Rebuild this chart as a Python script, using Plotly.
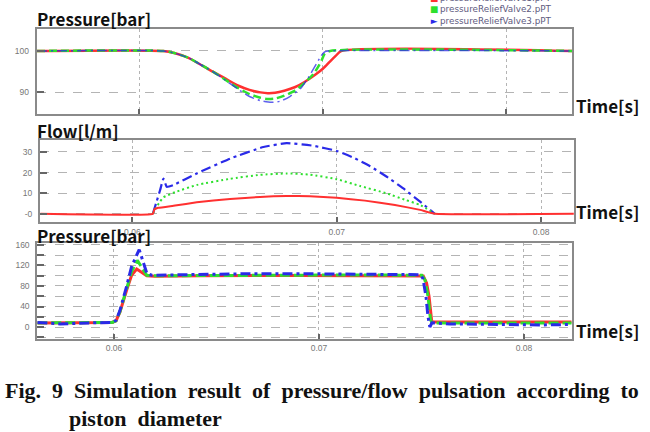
import plotly.graph_objects as go

W, H = 650, 432

# ---------------- data ----------------
# Top panel: pressure [bar] (zoomed time window)
top_ticks = [0.061, 0.062, 0.063]
top_t_red = [0.06044, 0.06113, 0.06119, 0.06127, 0.06133, 0.0614, 0.06147, 0.06154, 0.0616, 0.06166,
             0.0617, 0.06174, 0.06179, 0.06185, 0.0619, 0.06196, 0.062, 0.06204, 0.06207, 0.0621, 0.06336]
top_p_red = [100, 100, 99.5, 98.3, 96.8, 95.0, 93.3, 91.6, 90.6, 90.0,
             89.8, 89.9, 90.4, 91.3, 92.5, 94.3, 95.7, 97.5, 98.8, 100, 100]
top_t_green = [0.06044, 0.06113, 0.06119, 0.06127, 0.06133, 0.0614, 0.06147, 0.06154, 0.0616, 0.06166,
               0.0617, 0.06174, 0.06179, 0.06185, 0.0619, 0.06195, 0.06199, 0.06201, 0.06204, 0.06336]
top_p_green = [100, 100, 99.5, 98.3, 96.8, 95.0, 93.0, 91.0, 89.6, 88.7,
               88.4, 88.5, 89.2, 90.5, 92.3, 94.5, 97.4, 99.3, 100, 100]
top_t_blue = [0.06044, 0.06113, 0.06119, 0.06127, 0.06133, 0.0614, 0.06147, 0.06154, 0.0616, 0.06166,
              0.06172, 0.06177, 0.06182, 0.06188, 0.06192, 0.06196, 0.06199, 0.06201, 0.06203, 0.06336]
top_p_blue = [100, 100, 99.5, 98.3, 96.8, 95.0, 92.9, 90.7, 89.0, 88.0,
              87.6, 87.9, 89.0, 91.0, 93.5, 96.5, 98.8, 99.8, 100, 100]

# Middle panel: flow [l/m]
flow_t_red = [0.0555, 0.0610, 0.06108, 0.06127, 0.06209, 0.06315, 0.06478, 0.06625, 0.06755,
              0.06869, 0.0700, 0.07138, 0.07285, 0.07408, 0.0748, 0.0816]
flow_q_red = [0, 0, 2.2, 2.9, 4.0, 5.6, 7.2, 8.2, 8.7, 8.5, 7.8, 6.4, 4.3, 1.9, 0, 0]
flow_t_green = [0.0610, 0.06116, 0.06136, 0.06152, 0.06209, 0.06315, 0.06478, 0.06625, 0.06755,
                0.06869, 0.0700, 0.07114, 0.07245, 0.07334, 0.07408, 0.0748]
flow_q_green = [0, 3.0, 6.0, 8.0, 10.5, 14.0, 17.0, 18.9, 19.6, 19.0, 16.8, 13.5, 9.9, 6.8, 4.3, 0]
flow_t_blue = [0.0610, 0.06116, 0.06136, 0.06152, 0.06168, 0.06201, 0.06315, 0.06478, 0.06641, 0.06755,
               0.06886, 0.0700, 0.07081, 0.07163, 0.07245, 0.07326, 0.07408, 0.0748]
flow_q_blue = [0, 5.1, 11.6, 17.1, 13.1, 14.0, 19.6, 26.8, 32.4, 34.3,
               33.0, 30.5, 27.3, 23.1, 18.0, 12.3, 5.9, 0]

# Bottom panel: pressure [bar]
bot_t_red = [0.05626, 0.05834, 0.0599, 0.0601, 0.06029, 0.06062, 0.06086, 0.06111, 0.06132, 0.0616,
             0.062, 0.0642, 0.06907, 0.07395, 0.07509, 0.07525, 0.07537, 0.0755, 0.07556, 0.07883, 0.08233]
bot_p_red = [8, 8.5, 9, 12, 29, 72, 101, 113, 108, 100,
             99, 100, 100.5, 100, 99.5, 86, 60, 12, 10, 10, 10]
bot_t_green = [0.05626, 0.0599, 0.0601, 0.06029, 0.06062, 0.06086, 0.06114, 0.06132, 0.0616, 0.062,
               0.06663, 0.07151, 0.07502, 0.07517, 0.07532, 0.07544, 0.07551, 0.07883, 0.08233]
bot_p_green = [8, 9, 12, 30, 75, 108, 130, 118, 101, 100,
               101, 101.5, 101, 92, 60, 15, 8, 8, 8]
bot_t_blue = [0.05626, 0.05737, 0.05883, 0.0599, 0.0601, 0.06029, 0.06062, 0.06086, 0.06123, 0.06141,
              0.06161, 0.06185, 0.0642, 0.06663, 0.06907, 0.07151, 0.07493, 0.07507, 0.07522, 0.07532,
              0.07541, 0.07551, 0.07639, 0.07883, 0.08078, 0.08233]
bot_p_blue = [9, 6, 8, 9, 13, 32, 80, 118, 151, 130,
              104, 101, 103, 104, 104, 103, 102, 95, 60, 20,
              0, 8, 6, 5, 4, 5]

time_ticks = [0.06, 0.07, 0.08]
time_labels = ["0.06", "0.07", "0.08"]
series_names = ["pressureReliefValve1.pPT", "pressureReliefValve2.pPT", "pressureReliefValve3.pPT"]

RED, GREEN, BLUE = "#ff3030", "#2ee02e", "#2a2ae8"

# ---------------- figure ----------------
fig = go.Figure()

def px_x(p):
    return p / W

def px_y(p):
    return 1 - p / H

# top
fig.add_trace(go.Scatter(x=top_t_red, y=top_p_red, mode="lines", xaxis="x", yaxis="y",
                         line=dict(color=RED, width=2.5, shape="spline", smoothing=0.6), showlegend=False))
fig.add_trace(go.Scatter(x=top_t_green, y=top_p_green, mode="lines", xaxis="x", yaxis="y",
                         line=dict(color=GREEN, width=2.5, dash="8px,4px", shape="spline", smoothing=0.6), showlegend=False))
fig.add_trace(go.Scatter(x=top_t_blue, y=top_p_blue, mode="lines", xaxis="x", yaxis="y",
                         line=dict(color=BLUE, width=1.5, dash="10px,4px,2px,4px", shape="spline", smoothing=0.6),
                         opacity=0.75, showlegend=False))
# middle
fig.add_trace(go.Scatter(x=flow_t_blue, y=flow_q_blue, mode="lines", xaxis="x2", yaxis="y2",
                         line=dict(color=BLUE, width=2.2, dash="10px,4px,3px,4px", shape="spline", smoothing=0.4), showlegend=False))
fig.add_trace(go.Scatter(x=flow_t_green, y=flow_q_green, mode="lines", xaxis="x2", yaxis="y2",
                         line=dict(color=GREEN, width=2, dash="2px,3px", shape="spline", smoothing=0.4), showlegend=False))
fig.add_trace(go.Scatter(x=flow_t_red, y=flow_q_red, mode="lines", xaxis="x2", yaxis="y2",
                         line=dict(color=RED, width=2, shape="spline", smoothing=0.3), showlegend=False))
# bottom
fig.add_trace(go.Scatter(x=bot_t_red, y=bot_p_red, mode="lines", xaxis="x3", yaxis="y3",
                         line=dict(color=RED, width=3), showlegend=False))
fig.add_trace(go.Scatter(x=bot_t_green, y=bot_p_green, mode="lines", xaxis="x3", yaxis="y3",
                         line=dict(color=GREEN, width=3, dash="10px,4px"), showlegend=False))
fig.add_trace(go.Scatter(x=bot_t_blue, y=bot_p_blue, mode="lines", xaxis="x3", yaxis="y3",
                         line=dict(color=BLUE, width=3, dash="10px,4px,3px,4px"), showlegend=False))

tickfont = dict(family="Liberation Sans", size=8.5, color="#777777")
GRID = "#b4b4b4"
common_x = dict(showline=True, mirror=True, linecolor="#8a8a8a", linewidth=2, ticks="inside", ticklen=5,
                tickcolor="#666666", tickwidth=1.5, showgrid=True, gridcolor=GRID, griddash="dot",
                gridwidth=1, zeroline=False, tickfont=tickfont)
common_y = dict(showline=True, mirror=True, linecolor="#8a8a8a", linewidth=2, ticks="inside", ticklen=7,
                tickcolor="#666666", tickwidth=1.5, showgrid=True, gridcolor=GRID, griddash="dash",
                gridwidth=1, zeroline=False, tickfont=tickfont, ticklabelstandoff=4)

fig.update_layout(
    width=W, height=H, margin=dict(l=0, r=0, t=0, b=0),
    paper_bgcolor="white", plot_bgcolor="white",
    xaxis=dict(common_x, domain=[px_x(36.7), px_x(572.3)], range=[0.06044, 0.06336],
               tickvals=top_ticks, showticklabels=False, anchor="y"),
    yaxis=dict(common_y, domain=[px_y(111.7), px_y(26)], range=[84.8, 105.35],
               tickvals=[90, 100], anchor="x"),
    xaxis2=dict(common_x, domain=[px_x(40), px_x(574)], range=[0.05548, 0.08161],
                tickvals=time_ticks, ticktext=time_labels, anchor="y2"),
    yaxis2=dict(common_y, domain=[px_y(221), px_y(138)], range=[-4.2, 35.8],
                tickvals=[0, 10, 20, 30], ticktext=["-0", "10", "20", "30"], anchor="x2"),
    xaxis3=dict(common_x, domain=[px_x(37.3), px_x(571.7)], range=[0.05626, 0.08233],
                tickvals=time_ticks, ticktext=time_labels, anchor="y3"),
    yaxis3=dict(common_y, domain=[px_y(338), px_y(241.3)], range=[-22.7, 164.6],
                tickvals=[0, 40, 80, 120, 160], anchor="x3",
                minor=dict(dtick=20, tick0=0, showgrid=True, gridcolor=GRID, griddash="dash",
                           ticks="inside", ticklen=7, tickcolor="#666666")),
)

anns = []
TITLE_FONT = dict(family="Noto Sans CJK KR", size=17, color="#111111", weight="bold")

def label(text, x, y, font, xanchor="left"):
    anns.append(dict(text=text, x=px_x(x), y=px_y(y), xref="paper", yref="paper",
                     xanchor=xanchor, yanchor="middle", showarrow=False, font=font))

label("Pressure[bar]", 35, 15.5, TITLE_FONT)
label("Flow[l/m]", 35, 128, TITLE_FONT)
label("Pressure[bar]", 35, 234, TITLE_FONT)
label("Time[s]", 574, 103, TITLE_FONT)
label("Time[s]", 574, 210, TITLE_FONT)
label("Time[s]", 574, 330, TITLE_FONT)

# legend (top right), drawn as one text block; the first row is cut off by the page top as in the original
leg_font = dict(family="DejaVu Sans", size=8.8, color="#5e5a7e")
leg_colors = [RED, GREEN, BLUE]
leg_syms = ["■", "■", "►"]
sym_text = "<br>".join(f"<span style='color:{c}'>{s}</span>" for s, c in zip(leg_syms, leg_colors))
label(sym_text, 428, 6.5, dict(family="DejaVu Sans", size=8.8, color=BLUE))
label("<br>".join(series_names), 438, 6.5, leg_font)

# caption
cap_font = dict(family="Liberation Serif", size=22, color="#111111", weight="bold")
cap1 = "Fig.\u00a0 9\u00a0 Simulation\u00a0 result\u00a0 of\u00a0 pressure/flow\u00a0 pulsation\u00a0 according\u00a0 to"
label(cap1, 3, 390, cap_font)
label("piston\u00a0 diameter", 67, 418, cap_font)

fig.update_layout(annotations=anns)

fig.write_html("out.html")
